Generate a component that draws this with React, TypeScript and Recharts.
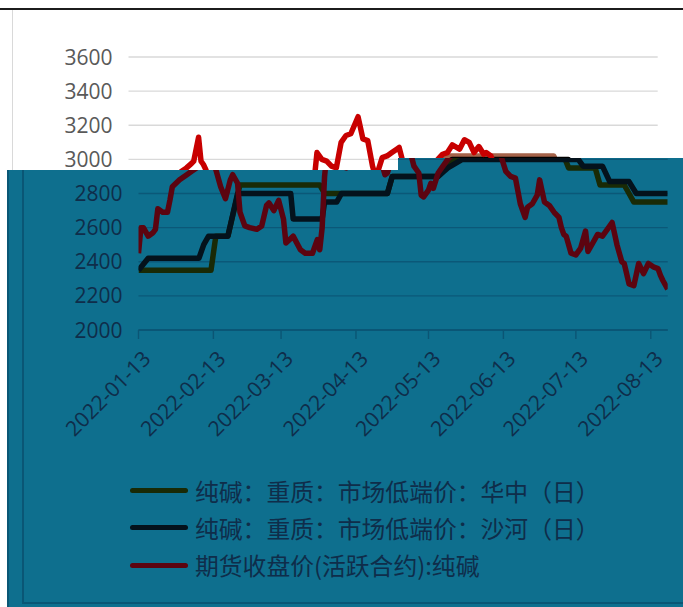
import React from 'react';
import { LineChart, Line, XAxis, YAxis, CartesianGrid } from 'recharts';

// ---- data ----
const tickLabels = ['2022-01-13', '2022-02-13', '2022-03-13', '2022-04-13', '2022-05-13', '2022-06-13', '2022-07-13', '2022-08-13'];
const yTicks = [2000, 2200, 2400, 2600, 2800, 3000, 3200, 3400, 3600];
const seriesNames = ['纯碱：重质：市场低端价：华中（日）', '纯碱：重质：市场低端价：沙河（日）', '期货收盘价(活跃合约):纯碱'];

const huazhongDates = ['2022-01-13', '2022-02-12', '2022-02-14', '2022-02-19', '2022-02-24', '2022-03-29', '2022-03-31', '2022-04-26', '2022-04-28', '2022-05-17', '2022-05-25', '2022-07-08', '2022-07-10', '2022-07-21', '2022-07-23', '2022-08-02', '2022-08-04', '2022-08-06', '2022-08-20'];
const huazhongValues = [2350, 2350, 2550, 2550, 2850, 2850, 2800, 2800, 2900, 2900, 3020, 3020, 2950, 2950, 2850, 2850, 2800, 2750, 2750];

const shaheDates = ['2022-01-13', '2022-01-17', '2022-02-07', '2022-02-09', '2022-02-11', '2022-02-19', '2022-02-23', '2022-03-17', '2022-03-18', '2022-03-30', '2022-03-31', '2022-04-05', '2022-04-07', '2022-04-26', '2022-04-28', '2022-05-17', '2022-05-21', '2022-05-27', '2022-07-14', '2022-07-16', '2022-07-24', '2022-07-27', '2022-08-04', '2022-08-07', '2022-08-20'];
const shaheValues = [2350, 2420, 2420, 2500, 2550, 2550, 2800, 2800, 2650, 2650, 2750, 2750, 2800, 2800, 2900, 2900, 2950, 3000, 3000, 2960, 2960, 2870, 2870, 2800, 2800];

const futuresDates = [
  '2022-01-13', '2022-01-14', '2022-01-15', '2022-01-17', '2022-01-19', '2022-01-20', '2022-01-21', '2022-01-23', '2022-01-25', '2022-01-26',
  '2022-01-27', '2022-01-30', '2022-02-02', '2022-02-04', '2022-02-06', '2022-02-08', '2022-02-09', '2022-02-11', '2022-02-12', '2022-02-13',
  '2022-02-14', '2022-02-16', '2022-02-18', '2022-02-20', '2022-02-21', '2022-02-23', '2022-02-24', '2022-02-26', '2022-02-28', '2022-03-03',
  '2022-03-05', '2022-03-07', '2022-03-08', '2022-03-10', '2022-03-12', '2022-03-14', '2022-03-15', '2022-03-18', '2022-03-21', '2022-03-23',
  '2022-03-26', '2022-03-28', '2022-03-29', '2022-03-30', '2022-03-31', '2022-04-01', '2022-04-03', '2022-04-05', '2022-04-07', '2022-04-09',
  '2022-04-11', '2022-04-13', '2022-04-15', '2022-04-18', '2022-04-20', '2022-04-22', '2022-04-24', '2022-04-25', '2022-04-26', '2022-04-28',
  '2022-04-30', '2022-05-02', '2022-05-04', '2022-05-05', '2022-05-07', '2022-05-09', '2022-05-10', '2022-05-11', '2022-05-13', '2022-05-14',
  '2022-05-15', '2022-05-17', '2022-05-19', '2022-05-21', '2022-05-23', '2022-05-25', '2022-05-27', '2022-05-30', '2022-06-01', '2022-06-03',
  '2022-06-05', '2022-06-07', '2022-06-09', '2022-06-10', '2022-06-12', '2022-06-14', '2022-06-16', '2022-06-18', '2022-06-20', '2022-06-22',
  '2022-06-23', '2022-06-25', '2022-06-27', '2022-06-28', '2022-06-30', '2022-07-02', '2022-07-04', '2022-07-06', '2022-07-07', '2022-07-08',
  '2022-07-09', '2022-07-11', '2022-07-13', '2022-07-15', '2022-07-17', '2022-07-18', '2022-07-20', '2022-07-22', '2022-07-24', '2022-07-26',
  '2022-07-28', '2022-07-30', '2022-08-01', '2022-08-02', '2022-08-04', '2022-08-06', '2022-08-08', '2022-08-10', '2022-08-12', '2022-08-14',
  '2022-08-16', '2022-08-17', '2022-08-18', '2022-08-20',
];
const futuresValues = [
  2450, 2600, 2600, 2550, 2570, 2590, 2710, 2690, 2690, 2760,
  2840, 2880, 2910, 2930, 2950, 2975, 2990, 3130, 2990, 2970,
  2940, 2840, 2770, 2880, 2910, 2860, 2690, 2610, 2600, 2590,
  2610, 2730, 2745, 2700, 2760, 2650, 2510, 2550, 2470, 2450,
  2450, 2530, 2470, 2600, 2900, 3040, 3000, 2990, 2960, 2950,
  3100, 3140, 3150, 3250, 3120, 3110, 2960, 2910, 2920, 3010,
  3020, 3040, 3060, 3070, 2960, 2920, 2790, 2780, 2820, 2860,
  2830, 2920, 2960, 3000, 3030, 3040, 3085, 3060, 3115, 3100,
  3040, 3075, 3030, 3040, 3020, 2930, 2900, 2890, 2740, 2660,
  2720, 2740, 2790, 2880, 2750, 2730, 2690, 2660, 2600, 2560,
  2550, 2450, 2440, 2480, 2580, 2460, 2510, 2560, 2550, 2590,
  2630, 2500, 2400, 2390, 2270, 2260, 2390, 2330, 2390, 2370,
  2360, 2320, 2290, 2240,
];

// ---- helpers ----
const START = Date.UTC(2022, 0, 13);
const dayOf = (s: string) => {
  const [y, m, d] = s.split('-').map(Number);
  return Math.round((Date.UTC(y, m - 1, d) - START) / 86400000);
};
const build = (dates: string[], vals: number[]) => dates.map((d, i) => ({ t: dayOf(d), v: vals[i] }));
const huazhong = build(huazhongDates, huazhongValues);
const shahe = build(shaheDates, shaheValues);
const futures = build(futuresDates, futuresValues);
const tickDays = tickLabels.map(dayOf);
const endDay = dayOf('2022-08-20');

type Theme = {
  grid: string; axis: string; label: string; c1: string; c2: string; c3: string;
  showY: (v: number) => boolean; showX: boolean;
};
const upperTheme: Theme = {
  grid: '#d9d9d9', axis: '#d9d9d9', label: '#595959', c1: '#a5634a', c2: '#000000', c3: '#c80000',
  showY: (v) => v >= 3000, showX: false,
};
const lowerTheme: Theme = {
  grid: '#0b5878', axis: '#0b5574', label: '#0f2d4a', c1: '#192a06', c2: '#04121c', c3: '#5c0410',
  showY: (v) => v <= 2800, showX: true,
};

const FONT = '"Open Sans", "Noto Sans", sans-serif';

const XTick = (props: any) => {
  const { x, y, payload, color, show } = props;
  if (!show) return <g />;
  const ax = x + 13.5;
  const ay = y + 21;
  const idx = tickDays.indexOf(payload.value);
  return (
    <text x={ax} y={ay} transform={`rotate(-45, ${ax}, ${ay})`} textAnchor="end" fill={color} fontSize={21} fontFamily={FONT}>
      {tickLabels[idx >= 0 ? idx : 0]}
    </text>
  );
};

const YTick = (props: any) => {
  const { x, y, payload, color, show } = props;
  if (!show(payload.value)) return <g />;
  return (
    <text x={x} y={y} dy="0.36em" textAnchor="end" fill={color} fontSize={21} fontFamily={FONT}>
      {payload.value}
    </text>
  );
};

function Chart({ theme }: { theme: Theme }) {
  return (
    <LineChart width={683} height={607} margin={{ top: 57, right: 15.3, bottom: 157, left: 38.5 }}>
      <CartesianGrid horizontal vertical={false} stroke={theme.grid} strokeWidth={1.4} />
      <XAxis
        type="number"
        dataKey="t"
        domain={[0, endDay]}
        ticks={tickDays}
        interval={0}
        allowDataOverflow
        height={120}
        tickSize={9}
        tickMargin={0}
        axisLine={{ stroke: theme.axis, strokeWidth: 1.4 }}
        tickLine={{ stroke: theme.axis, strokeWidth: 1.4 }}
        tick={<XTick color={theme.label} show={theme.showX} />}
      />
      <YAxis
        type="number"
        domain={[2000, 3600]}
        ticks={yTicks}
        interval={0}
        width={100}
        axisLine={false}
        tickLine={false}
        tickSize={0}
        tickMargin={16}
        tick={<YTick color={theme.label} show={theme.showY} />}
      />
      <Line data={huazhong} dataKey="v" name={seriesNames[0]} type="linear" stroke={theme.c1} strokeWidth={5.5} strokeLinejoin="round" dot={false} activeDot={false} isAnimationActive={false} />
      <Line data={shahe} dataKey="v" name={seriesNames[1]} type="linear" stroke={theme.c2} strokeWidth={5.5} strokeLinejoin="round" dot={false} activeDot={false} isAnimationActive={false} />
      <Line data={futures} dataKey="v" name={seriesNames[2]} type="linear" stroke={theme.c3} strokeWidth={5.5} strokeLinejoin="round" dot={false} activeDot={false} isAnimationActive={false} />
    </LineChart>
  );
}

const legendColors = [lowerTheme.c1, lowerTheme.c2, lowerTheme.c3];
const legendRowsY = [490.7, 527.7, 565];

export default function App() {
  return (
    <div style={{ position: 'absolute', left: 0, top: 0, width: 683, height: 607, overflow: 'hidden', background: '#ffffff' }}>
      {/* upper (white) layer */}
      <div style={{ position: 'absolute', left: 0, top: 8, width: 683, height: 2, background: '#1c1c1c' }} />
      <div style={{ position: 'absolute', left: 12, top: 10, width: 1, height: 170, background: '#d9d9d9' }} />
      <div style={{ position: 'absolute', left: -10, top: 0, width: 683, height: 607 }}>
        <Chart theme={upperTheme} />
      </div>

      {/* lower (teal) layer */}
      <div
        style={{
          position: 'absolute', left: 0, top: 0, width: 683, height: 607, background: '#0e6f8e',
          clipPath: 'polygon(7px 170px, 398px 170px, 398px 158px, 683px 158px, 683px 607px, 7px 607px)',
        }}
      >
        <div style={{ position: 'absolute', left: 7, top: 0, width: 2, height: 607, background: '#0a5775' }} />
        <div style={{ position: 'absolute', left: 22, top: 0, width: 1.5, height: 603, background: '#0a5675' }} />
        <div style={{ position: 'absolute', left: 22, top: 602, width: 661, height: 1.5, background: '#0a5675' }} />
        <div style={{ position: 'absolute', left: 0, top: 0, width: 683, height: 607 }}>
          <Chart theme={lowerTheme} />
        </div>
        {seriesNames.map((name, i) => (
          <div key={name} style={{ position: 'absolute', left: 130, top: legendRowsY[i] - 18, height: 36, display: 'flex', alignItems: 'center' }}>
            <div style={{ width: 58, height: 5, borderRadius: 3, background: legendColors[i] }} />
            <span style={{ marginLeft: 7, fontSize: 23.8, fontFamily: '"Noto Sans CJK SC", sans-serif', color: lowerTheme.label, whiteSpace: 'nowrap', lineHeight: '36px' }}>
              {name}
            </span>
          </div>
        ))}
      </div>
    </div>
  );
}
